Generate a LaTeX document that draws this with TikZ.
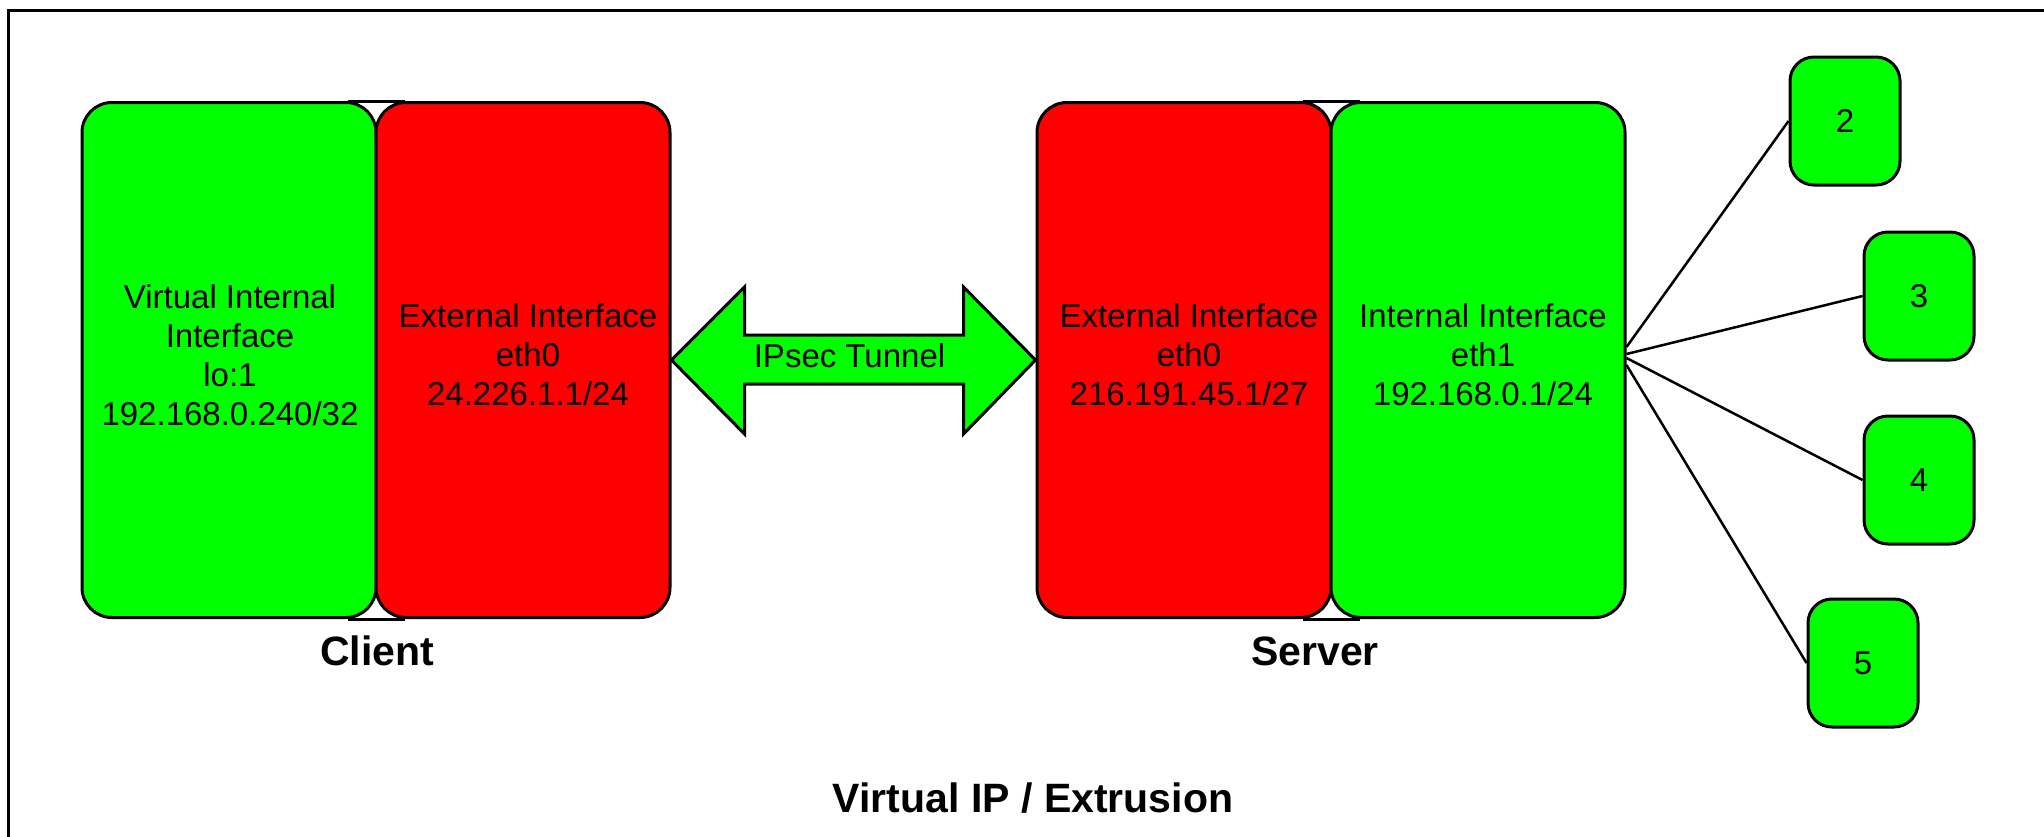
\documentclass[tikz,border=0pt]{standalone}
\usepackage{fontspec}
\setmainfont{Liberation Sans}
\usetikzlibrary{calc}
\definecolor{ifgreen}{RGB}{0,255,0}
\definecolor{ifred}{RGB}{255,0,0}

\begin{document}
\begin{tikzpicture}[x=1pt,y=-1pt,
  iface/.style={draw=black, line width=3pt, rounded corners=30pt,
    minimum width=294pt, minimum height=515pt, inner sep=0pt},
  iftext/.style={inner sep=0pt, align=center, font=\fontsize{33}{39}\selectfont},
  host/.style={draw=black, fill=ifgreen, line width=3pt, rounded corners=24pt,
    minimum width=110pt, minimum height=128pt, inner sep=0pt,
    font=\fontsize{33}{39}\selectfont},
  caption/.style={inner sep=0pt, anchor=base, font=\bfseries\fontsize{41}{48}\selectfont},
  link/.style={draw=black, line width=2.5pt},
  tunnel/.style={draw=black, fill=ifgreen, line width=3pt, line join=miter},
]
\useasboundingbox (0,0) rectangle (2044,836);

% outer frame (runs past the right and bottom edges)
\draw[line width=3pt] (8,10) rectangle (2080,880);

% client interfaces
\node[iface, fill=ifgreen] (cin) at (229,360) {};
\node[iface, fill=ifred] (cex) at (523,360) {};
\draw[line width=3pt] ($(cin.north east)+(-30,0)$) -- ($(cex.north west)+(30,0)$);
\draw[line width=3pt] ($(cin.south east)+(-30,0)$) -- ($(cex.south west)+(30,0)$);
\node[iftext] (cintxt) at ($(cin.center)+(1,-5)$)
  {Virtual Internal\\Interface\\lo:1\\192.168.0.240/32};
\node[iftext] (cextxt) at ($(cex.center)+(5,-5)$)
  {External Interface\\eth0\\24.226.1.1/24};

% server interfaces
\node[iface, fill=ifred] (sex) at (1184,360) {};
\node[iface, fill=ifgreen] (sin) at (1478,360) {};
\draw[line width=3pt] ($(sex.north east)+(-30,0)$) -- ($(sin.north west)+(30,0)$);
\draw[line width=3pt] ($(sex.south east)+(-30,0)$) -- ($(sin.south west)+(30,0)$);
\node[iftext] (sextxt) at ($(sex.center)+(5,-5)$)
  {External Interface\\eth0\\216.191.45.1/27};
\node[iftext] (sintxt) at ($(sin.center)+(5,-5)$)
  {Internal Interface\\eth1\\192.168.0.1/24};

% IPsec tunnel double arrow
\draw[tunnel] (cex.east) -- ($(cex.east)+(73,-73)$) -- ($(cex.east)+(73,-25)$)
  -- ($(sex.west)+(-72,-25)$) -- ($(sex.west)+(-72,-73)$) -- (sex.west)
  -- ($(sex.west)+(-72,74)$) -- ($(sex.west)+(-72,24)$)
  -- ($(cex.east)+(73,24)$) -- ($(cex.east)+(73,74)$) -- cycle;
\node[iftext] (tun) at ($(cex.east)!0.5!(sex.west)+(-4,-4)$) {IPsec Tunnel};

% internal hosts
\node[host] (h2) at (1845,121) {2};
\node[host] (h3) at (1919,296) {3};
\node[host] (h4) at (1919,480) {4};
\node[host] (h5) at (1863,663) {5};

\draw[link] ($(sin.east)+(0,-13)$) -- (h2.west);
\draw[link] ($(sin.east)+(0,-6)$) -- (h3.west);
\draw[link] ($(sin.east)+(0,-2)$) -- (h4.west);
\draw[link] ($(sin.east)+(0,5)$) -- (h5.west);

% captions
\node[caption] (client) at (377,665) {Client};
\node[caption] (server) at (1315,665) {Server};
\node[caption] (title) at (1033,812) {Virtual IP / Extrusion};
\end{tikzpicture}
\end{document}
